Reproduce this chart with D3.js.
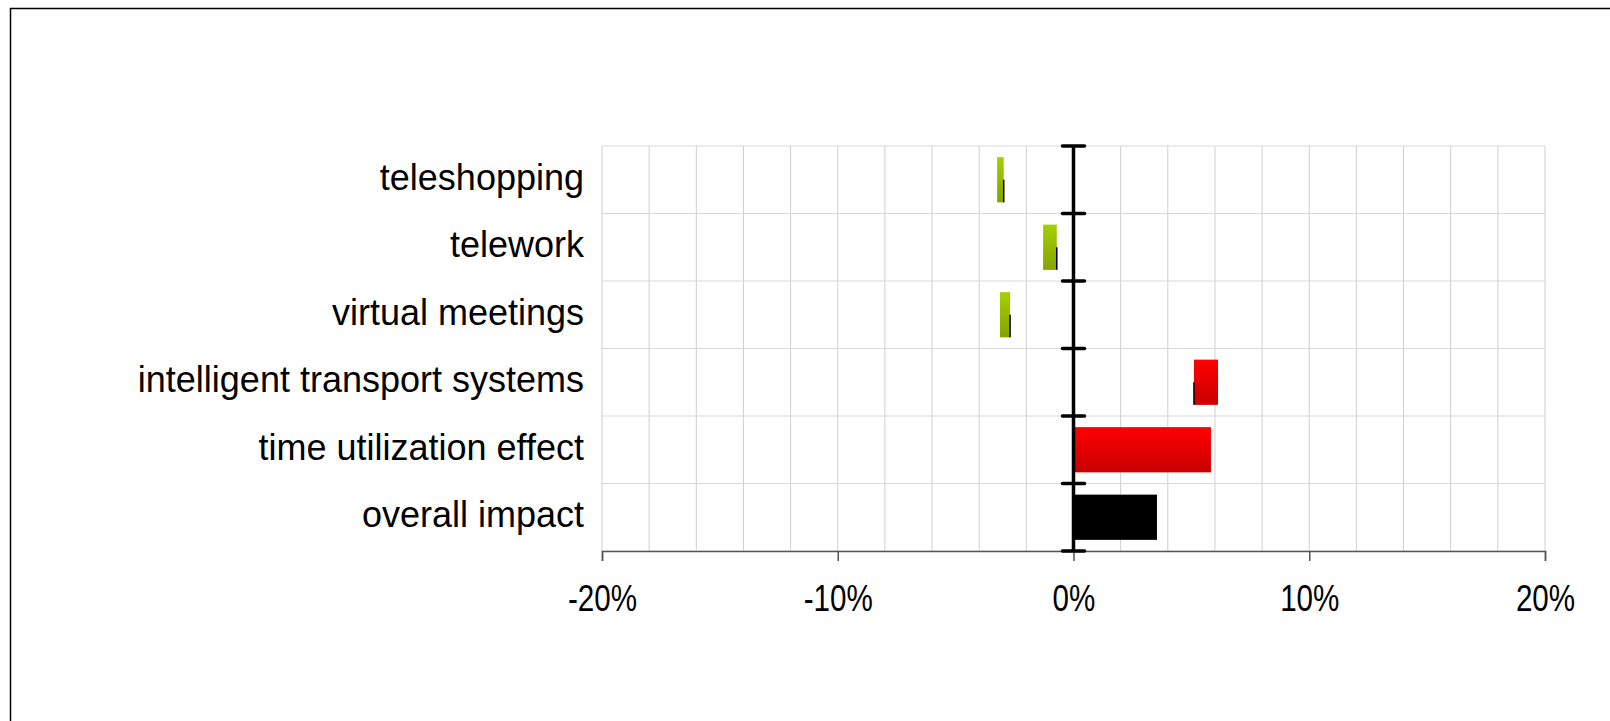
<!DOCTYPE html>
<html>
<head>
<meta charset="utf-8">
<script src="https://cdn.jsdelivr.net/npm/d3@7"></script>
<style>
  html, body { margin: 0; padding: 0; background: #fff; overflow: hidden; }
  svg { display: block; }
</style>
</head>
<body>
<div id="chart"></div>
<script>
// chart data
const categories = ['teleshopping', 'telework', 'virtual meetings', 'intelligent transport systems', 'time utilization effect', 'overall impact'];
const barStart = [-3.24, -1.29, -3.12, 5.11, 0, 0];
const barEnd = [-2.96, -0.71, -2.69, 6.13, 5.83, 3.54];
const barGroup = ['decrease', 'decrease', 'decrease', 'increase', 'increase', 'total'];
const markerValue = [-2.96, -0.71, -2.69, 5.11, null, null];
const xTicks = [-20, -10, 0, 10, 20];
const gridValues = d3.range(-20, 21, 2);

const width = 1610, height = 721;
const plot = { left: 602, right: 1545, top: 146, bottom: 551 };

const svg = d3.select('#chart').append('svg')
  .attr('width', width)
  .attr('height', height);

// outer frame (cut off on the right and bottom)
svg.append('rect')
  .attr('x', 10.5).attr('y', 8.5)
  .attr('width', width + 20).attr('height', height + 20)
  .attr('fill', 'none')
  .attr('stroke', '#000')
  .attr('stroke-width', 1.5);

const x = d3.scaleLinear().domain([-20, 20]).range([plot.left, plot.right]);
const y = d3.scaleBand().domain(categories).range([plot.top, plot.bottom])
  .paddingInner(0.33).paddingOuter(0.165);
const step = y.step();

// gradients
const defs = svg.append('defs');
const gradColors = {
  decrease: ['#a6d000', '#84a300'],
  increase: ['#ff0000', '#c80000'],
  total: ['#000000', '#000000']
};
Object.keys(gradColors).forEach(k => {
  const g = defs.append('linearGradient')
    .attr('id', 'grad-' + k)
    .attr('x1', '0%').attr('y1', '0%').attr('x2', '0%').attr('y2', '100%');
  g.append('stop').attr('offset', '0%').attr('stop-color', gradColors[k][0]);
  g.append('stop').attr('offset', '100%').attr('stop-color', gradColors[k][1]);
});

// vertical gridlines
svg.append('g')
  .selectAll('line')
  .data(gridValues)
  .join('line')
  .attr('x1', d => x(d)).attr('x2', d => x(d))
  .attr('y1', plot.top).attr('y2', plot.bottom)
  .attr('stroke', '#cfcfcf')
  .attr('stroke-width', 1);

// horizontal gridlines at category boundaries
const boundaries = d3.range(categories.length + 1).map(i => plot.top + i * step);
svg.append('g')
  .selectAll('line')
  .data(boundaries)
  .join('line')
  .attr('x1', plot.left).attr('x2', plot.right)
  .attr('y1', d => d).attr('y2', d => d)
  .attr('stroke', '#d9d9d9')
  .attr('stroke-width', 1);

// bars
svg.append('g')
  .selectAll('rect')
  .data(categories)
  .join('rect')
  .attr('x', (d, i) => x(Math.min(barStart[i], barEnd[i])))
  .attr('y', d => y(d))
  .attr('width', (d, i) => Math.abs(x(barEnd[i]) - x(barStart[i])))
  .attr('height', y.bandwidth())
  .attr('fill', (d, i) => `url(#grad-${barGroup[i]})`);

// small black markers on the bar edges
svg.append('g')
  .selectAll('line')
  .data(categories.filter((d, i) => markerValue[i] !== null))
  .join('line')
  .attr('x1', d => x(markerValue[categories.indexOf(d)]))
  .attr('x2', d => x(markerValue[categories.indexOf(d)]))
  .attr('y1', d => y(d) + y.bandwidth() * 0.5)
  .attr('y2', d => y(d) + y.bandwidth())
  .attr('stroke', '#000')
  .attr('stroke-width', 1.5);

// bottom axis
const xAxis = svg.append('g')
  .attr('transform', `translate(0,${plot.bottom})`)
  .call(d3.axisBottom(x).tickValues(xTicks).tickSize(10).tickPadding(24).tickFormat(d => d + '%'));
xAxis.select('.domain').attr('stroke', '#555').attr('stroke-width', 1.5);
xAxis.selectAll('.tick line').attr('stroke', '#555').attr('stroke-width', 1.5);
// narrow look: squeeze the labels horizontally
xAxis.selectAll('.tick text')
  .attr('fill', '#000')
  .attr('transform', 'scale(0.8,1)')
  .style('font-family', '"Liberation Sans", Arial, sans-serif')
  .style('font-size', '37px');

// zero axis with ticks between categories
svg.append('line')
  .attr('x1', x(0)).attr('x2', x(0))
  .attr('y1', plot.top).attr('y2', plot.bottom)
  .attr('stroke', '#000')
  .attr('stroke-width', 3.5);
svg.append('g')
  .selectAll('line')
  .data(boundaries)
  .join('line')
  .attr('x1', x(0) - 11).attr('x2', x(0) + 11)
  .attr('y1', d => d).attr('y2', d => d)
  .attr('stroke', '#000')
  .attr('stroke-width', 3.5)
  .attr('stroke-linecap', 'round');

// category labels
svg.append('g')
  .selectAll('text')
  .data(categories)
  .join('text')
  .attr('x', 584)
  .attr('y', d => y(d) + y.bandwidth() / 2 + 10)
  .attr('text-anchor', 'end')
  .style('font-family', '"Liberation Sans", Arial, sans-serif')
  .style('font-size', '36px')
  .attr('fill', '#000')
  .text(d => d);
</script>
</body>
</html>
